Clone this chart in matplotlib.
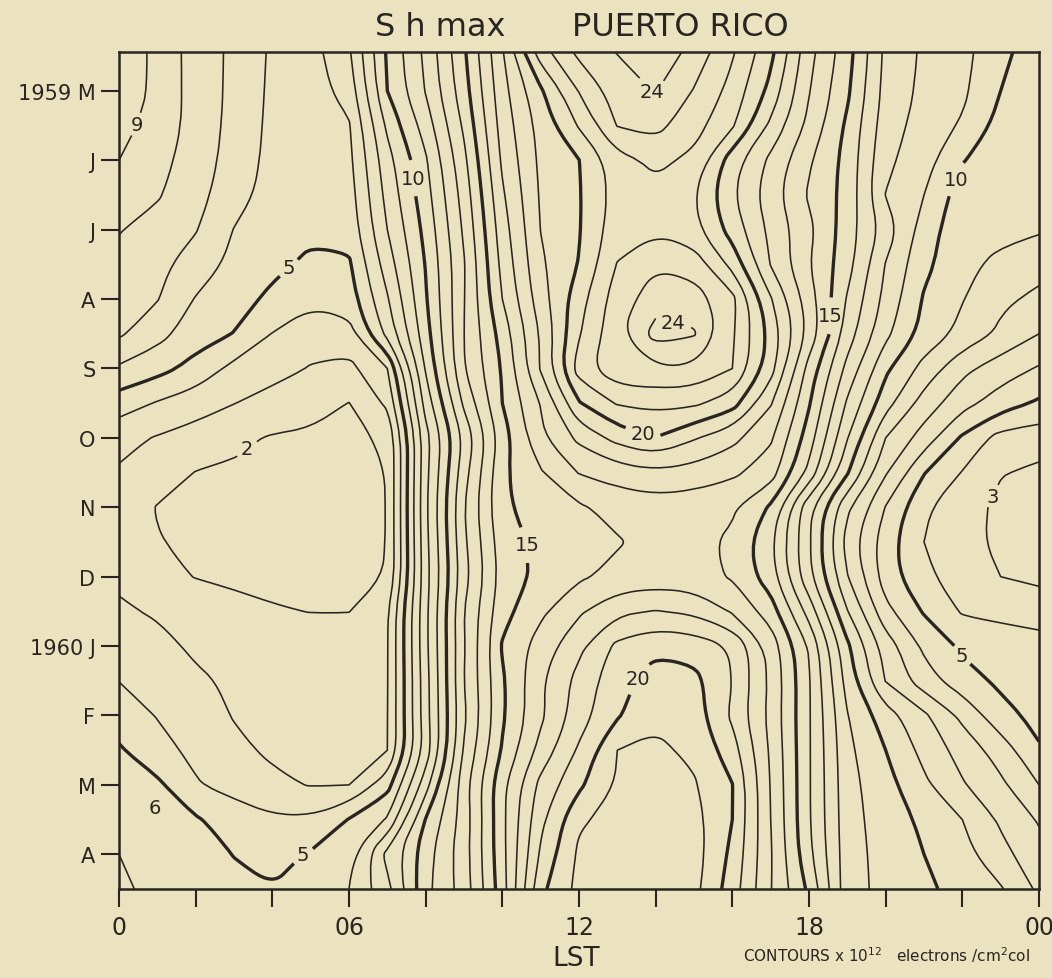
import numpy as np
import matplotlib
matplotlib.use('Agg')
import matplotlib.pyplot as plt
from matplotlib.path import Path

# ---- data: S h max (x10^12 el/cm^2 col), Puerto Rico, May 1959 - Apr 1960 ----
hours = list(range(0, 25))                      # local standard time, hourly
# half-month rows, 0 = May 1959 ... 11 = April 1960 (plus the two frame edges)
month_rows = [-0.56, 0, 0.5, 1, 1.5, 2, 2.5, 3, 3.5, 4, 4.5, 5, 5.5, 6, 6.5, 7,
              7.5, 8, 8.5, 9, 9.5, 10, 10.5, 11, 11.5]

row_top  = [9.8, 8.7, 7.58, 6.78, 5.85, 5.6, 6.86, 10.15, 12.24, 14.85, 17.9, 21.54, 23.27, 24.04, 24.75, 23.65, 22.12, 20.27, 17.33, 15.4, 12.76, 11.83, 11.3, 10.28, 9.4]
row_m0   = [9.8, 8.71, 7.6, 6.76, 5.8, 5.5, 6.43, 10.0, 12.06, 14.6, 17.64, 19.84, 22.05, 23.53, 24.05, 22.94, 21.67, 19.7, 17.06, 15.19, 12.67, 11.77, 11.22, 10.0, 9.3]
row_m05  = [9.3, 8.65, 7.59, 6.7, 5.75, 5.45, 5.9, 9.2, 11.46, 14.18, 17.42, 19.37, 21.1, 23.05, 23.3, 22.41, 21.13, 18.78, 16.74, 14.8, 12.47, 11.59, 10.87, 9.65, 9.35]
row_m1   = [9.0, 8.35, 7.52, 6.6, 5.7, 5.4, 5.75, 8.62, 10.87, 13.75, 17.17, 19.22, 19.98, 21.6, 22.3, 21.73, 19.45, 17.76, 16.14, 14.65, 12.23, 11.4, 10.05, 9.55, 9.4]
row_m15  = [8.5, 8.1, 7.35, 6.4, 5.6, 5.3, 5.55, 8.33, 10.6, 13.42, 16.85, 19.12, 19.92, 21.4, 21.6, 21.05, 19.13, 17.45, 15.87, 14.65, 11.97, 11.0, 9.5, 9.5, 9.3]
row_m2   = [8.05, 7.63, 7.06, 5.97, 5.45, 5.2, 5.35, 8.0, 10.29, 13.17, 16.54, 19.02, 19.93, 21.6, 21.85, 21.3, 19.57, 17.75, 16.25, 14.49, 12.6, 10.5, 9.3, 9.3, 9.1]
row_m25  = [7.73, 7.25, 6.57, 5.73, 5.23, 4.8, 4.85, 7.5, 10.05, 12.92, 16.3, 18.82, 20.05, 22.05, 22.9, 22.6, 20.67, 17.95, 16.05, 14.39, 11.95, 10.25, 9.3, 8.7, 8.4]
row_m3   = [7.4, 7.05, 5.94, 5.36, 4.8, 4.25, 4.5, 6.9, 9.9, 12.95, 16.0, 18.55, 20.6, 22.55, 23.5, 23.45, 22.3, 19.1, 16.5, 13.9, 11.7, 9.9, 9.05, 8.2, 7.75]
row_m35  = [7.15, 6.35, 5.45, 4.97, 3.97, 3.3, 3.6, 6.3, 9.6, 13.0, 15.4, 18.1, 20.9, 22.75, 24.4, 24.1, 22.15, 19.7, 16.7, 13.5, 11.25, 9.65, 8.7, 7.8, 7.0]
row_m4   = [5.85, 5.35, 4.65, 3.72, 3.34, 2.95, 2.7, 4.0, 9.1, 12.95, 15.1, 18.1, 21.5, 22.75, 22.9, 22.85, 22.0, 19.44, 15.6, 12.7, 10.2, 8.65, 7.27, 6.5, 5.9]
row_m45  = [4.5, 3.92, 3.47, 3.02, 2.65, 2.35, 1.98, 3.2, 8.4, 12.2, 15.0, 17.05, 19.92, 21.1, 21.3, 21.2, 20.45, 18.1, 15.1, 11.85, 9.4, 7.57, 6.35, 5.5, 4.85]
row_m5   = [3.28, 2.93, 2.57, 2.22, 1.92, 1.85, 1.85, 2.1, 7.6, 11.2, 14.5, 16.8, 18.25, 19.35, 19.97, 19.1, 18.3, 17.15, 14.5, 11.05, 8.0, 6.55, 4.85, 3.6, 3.45]
row_m55  = [2.9, 2.5, 1.97, 1.85, 1.78, 1.75, 1.75, 2.02, 7.7, 11.6, 14.8, 15.9, 17.05, 17.5, 17.8, 17.6, 17.2, 16.5, 13.7, 10.1, 7.1, 5.05, 3.95, 3.05, 2.8]
row_m6   = [2.6, 1.95, 1.75, 1.68, 1.63, 1.62, 1.65, 2.02, 7.8, 11.95, 14.85, 15.4, 15.88, 16.3, 16.5, 16.4, 16.15, 14.85, 11.25, 8.2, 5.95, 4.15, 3.4, 2.8, 2.65]
row_m65  = [2.65, 2.05, 1.8, 1.7, 1.66, 1.65, 1.68, 2.02, 7.7, 11.8, 14.55, 15.25, 15.6, 15.92, 16.3, 16.3, 15.8, 14.2, 11.1, 7.6, 5.45, 4.0, 3.3, 2.8, 2.6]
row_m7   = [2.85, 2.25, 1.97, 1.82, 1.75, 1.75, 1.8, 2.03, 7.6, 11.6, 14.4, 15.3, 15.87, 16.25, 16.45, 16.35, 15.9, 14.45, 11.25, 8.05, 5.5, 4.2, 3.55, 3.0, 2.75]
row_m75  = [3.12, 2.9, 2.55, 2.3, 2.08, 1.98, 1.98, 2.9, 7.75, 12.0, 14.65, 15.8, 16.85, 17.8, 18.05, 17.8, 16.9, 15.5, 12.6, 9.05, 6.3, 4.9, 3.9, 3.75, 3.65]
row_m8   = [3.57, 3.25, 2.85, 2.62, 2.5, 2.45, 2.5, 2.95, 7.75, 11.9, 15.1, 16.45, 17.75, 19.25, 19.8, 19.6, 18.9, 16.6, 13.9, 10.2, 7.55, 5.8, 4.8, 4.5, 4.3]
row_m85  = [3.98, 3.75, 3.15, 2.85, 2.65, 2.6, 2.65, 2.95, 7.6, 12.0, 14.85, 16.85, 18.35, 19.65, 20.4, 20.3, 19.0, 16.8, 14.1, 10.6, 7.95, 6.45, 5.45, 4.8, 4.55]
row_m9   = [4.6, 3.95, 3.45, 2.95, 2.75, 2.7, 2.75, 2.98, 7.6, 11.8, 14.85, 16.8, 18.55, 19.9, 20.8, 20.5, 18.8, 16.7, 14.1, 11.05, 9.45, 8.2, 6.75, 5.35, 4.7]
row_m95  = [5.1, 4.35, 3.75, 3.2, 2.85, 2.75, 2.8, 3.0, 7.4, 12.1, 15.1, 17.35, 19.15, 21.0, 21.2, 20.8, 19.45, 16.85, 14.1, 11.25, 10.0, 8.7, 7.6, 6.55, 5.1]
row_m10  = [5.55, 5.2, 4.1, 3.6, 3.2, 2.95, 3.0, 4.6, 8.6, 12.6, 15.75, 18.3, 19.8, 21.1, 21.4, 21.1, 20.03, 16.95, 14.1, 11.35, 10.35, 9.2, 8.1, 7.2, 6.0]
row_m105 = [5.8, 5.45, 5.1, 4.6, 4.15, 4.15, 5.05, 6.1, 10.05, 12.45, 15.75, 18.75, 20.85, 21.35, 21.55, 21.35, 20.0, 17.0, 14.1, 11.4, 10.5, 9.8, 9.0, 7.85, 6.9]
row_m11  = [6.0, 5.65, 5.35, 4.98, 4.6, 5.1, 5.75, 8.3, 10.6, 12.6, 15.7, 19.15, 21.2, 21.5, 21.65, 21.45, 19.75, 17.1, 14.25, 11.45, 10.6, 10.0, 9.35, 8.3, 7.4]
row_bot  = [6.1, 5.85, 5.5, 5.15, 5.05, 5.4, 6.0, 7.7, 10.7, 12.45, 15.55, 19.75, 21.3, 21.55, 21.65, 21.3, 19.5, 17.05, 14.8, 11.4, 10.7, 10.2, 9.65, 9.1, 7.8]

month_ticks = list(range(12))
month_labels = ['1959 M', 'J', 'J', 'A', 'S', 'O', 'N', 'D', '1960 J', 'F', 'M', 'A']
hour_ticks = list(range(0, 25, 2))
hour_labels = ['0', '', '', '06', '', '', '12', '', '', '18', '', '', '00']
levels = list(range(2, 25))
thick_levels = [5, 10, 15, 20]

# label anchor points (hour, month) for the contour numbers
label_points = [(0.68, 0.52), (7.77, 1.25), (4.33, 2.49), (3.29, 5.12), (13.9, 0.02),
                (14.5, 3.26), (13.65, 4.97), (18.5, 3.24), (10.46, 6.54), (22.0, 1.31),
                (22.85, 5.85), (21.97, 8.14), (13.6, 8.5), (4.77, 11.0)]

Z = np.array([row_top, row_m0, row_m05, row_m1, row_m15, row_m2, row_m25, row_m3, row_m35,
              row_m4, row_m45, row_m5, row_m55, row_m6, row_m65, row_m7, row_m75, row_m8,
              row_m85, row_m9, row_m95, row_m10, row_m105, row_m11, row_bot])

bg = '#EBE2BF'
ink = '#2A2520'
plt.rcParams['font.family'] = ['DejaVu Sans']


def rounded(path):
    """Redraw a contour polyline as quadratic Bezier pieces (vertices as control points)."""
    if path is None or len(path.vertices) == 0:
        return path
    verts = path.vertices
    codes = path.codes if path.codes is not None else \
        [Path.MOVETO] + [Path.LINETO] * (len(verts) - 1)
    subs, cur = [], []
    for v, c in zip(verts, codes):
        if c == Path.MOVETO:
            if cur:
                subs.append((cur, False))
            cur = [v]
        elif c == Path.CLOSEPOLY:
            subs.append((cur, True))
            cur = []
        else:
            cur.append(v)
    if cur:
        subs.append((cur, False))
    nv, nc = [], []
    for pts, closed in subs:
        p = np.asarray(pts, dtype=float)
        if closed and len(p) > 1 and np.allclose(p[0], p[-1]):
            p = p[:-1]
        if len(p) < 3:
            nv += list(p)
            nc += [Path.MOVETO] + [Path.LINETO] * (len(p) - 1)
            continue
        if closed:
            mids = (p + np.roll(p, -1, axis=0)) / 2
            nv.append(mids[-1]); nc.append(Path.MOVETO)
            for i in range(len(p)):
                nv += [p[i], mids[i]]; nc += [Path.CURVE3, Path.CURVE3]
        else:
            nv.append(p[0]); nc.append(Path.MOVETO)
            for i in range(1, len(p) - 1):
                nv += [p[i], (p[i] + p[i + 1]) / 2]; nc += [Path.CURVE3, Path.CURVE3]
            nv.append(p[-1]); nc.append(Path.LINETO)
    return Path(np.array(nv), nc)


fig = plt.figure(figsize=(10.52, 9.79), dpi=100)
fig.patch.set_facecolor(bg)
ax = fig.add_axes([119/1052, 1 - 890/979, 920/1052, 837/979])
ax.set_facecolor(bg)

lws = [2.4 if l in thick_levels else 1.15 for l in levels]
cs = ax.contour(hours, month_rows, Z, levels=levels, colors=ink, linewidths=lws)
lbls = ax.clabel(cs, levels=levels, manual=label_points, inline=True, fmt='%d',
                 fontsize=14, colors=ink, inline_spacing=6)
for t in lbls:
    t.set_rotation(0)
cs.set_paths([rounded(p) for p in cs.get_paths()])
ax.text(0.94, 10.33, '6', fontsize=14, color=ink, ha='center', va='center')

ax.set_xlim(0, 24)
ax.set_ylim(11.5, -0.56)
ax.set_xticks(hour_ticks)
ax.set_xticklabels(hour_labels, fontsize=17)
ax.set_yticks(month_ticks)
ax.set_yticklabels(month_labels, fontsize=15)
ax.tick_params(direction='out', length=13, width=1.5, color=ink, labelcolor=ink)
ax.tick_params(axis='x', pad=6)
ax.tick_params(axis='y', pad=4)
for s in ax.spines.values():
    s.set_linewidth(1.8)
    s.set_color(ink)

fig.text(440/1052, 1 - 28/979, 'S h max', ha='center', va='center', fontsize=23, color=ink)
fig.text(680/1052, 1 - 28/979, 'PUERTO RICO', ha='center', va='center', fontsize=23, color=ink)
fig.text(576/1052, 1 - 959/979, 'LST', ha='center', va='center', fontsize=19, color=ink)
fig.text(1030/1052, 1 - 955/979, r'CONTOURS x 10$^{12}$   electrons /cm$^2$col',
         ha='right', va='center', fontsize=11, color=ink)

fig.savefig('out.png', dpi=100, facecolor=bg)
